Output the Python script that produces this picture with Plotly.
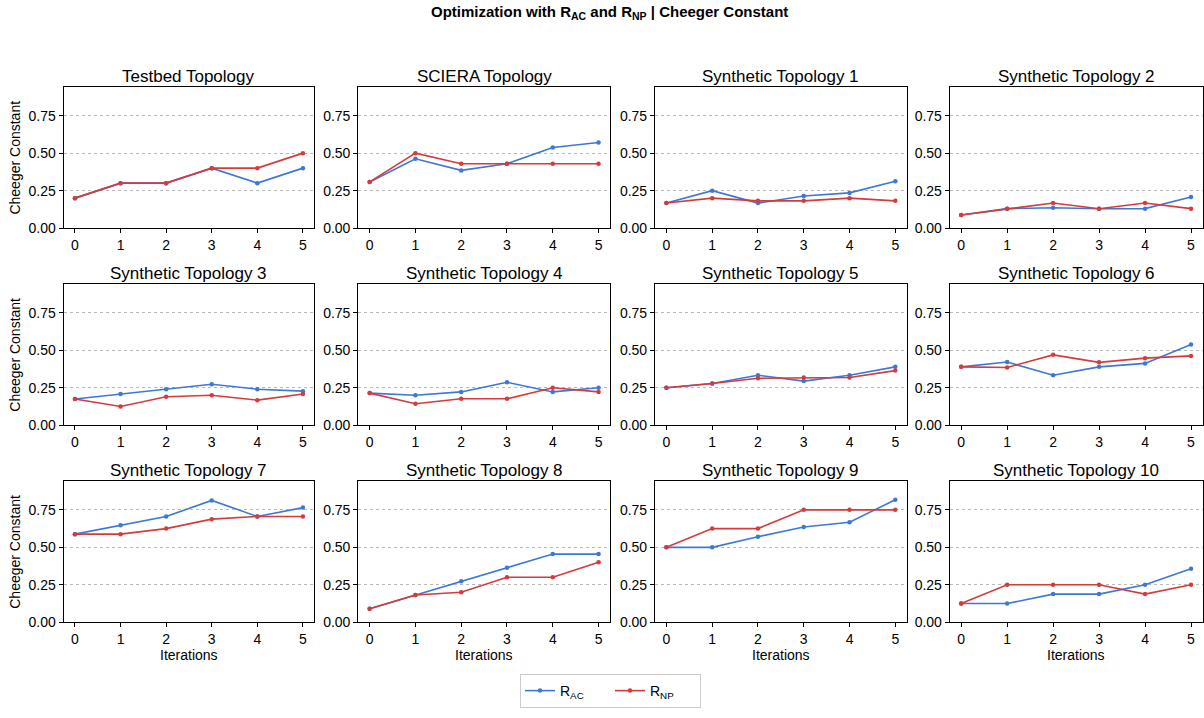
import plotly.graph_objects as go

# ---- data -------------------------------------------------------------
iterations = [0, 1, 2, 3, 4, 5]

topology_names = [
    "Testbed Topology", "SCIERA Topology",
    "Synthetic Topology 1", "Synthetic Topology 2",
    "Synthetic Topology 3", "Synthetic Topology 4",
    "Synthetic Topology 5", "Synthetic Topology 6",
    "Synthetic Topology 7", "Synthetic Topology 8",
    "Synthetic Topology 9", "Synthetic Topology 10",
]

r_ac_values = [
    [0.200, 0.300, 0.300, 0.400, 0.300, 0.400],
    [0.308, 0.462, 0.385, 0.429, 0.538, 0.571],
    [0.167, 0.250, 0.167, 0.214, 0.235, 0.313],
    [0.088, 0.130, 0.136, 0.129, 0.130, 0.208],
    [0.175, 0.208, 0.239, 0.273, 0.240, 0.227],
    [0.214, 0.200, 0.222, 0.286, 0.222, 0.250],
    [0.250, 0.278, 0.333, 0.294, 0.333, 0.389],
    [0.389, 0.421, 0.333, 0.389, 0.412, 0.538],
    [0.588, 0.647, 0.706, 0.813, 0.706, 0.765],
    [0.091, 0.182, 0.273, 0.364, 0.455, 0.455],
    [0.500, 0.500, 0.571, 0.636, 0.667, 0.818],
    [0.125, 0.125, 0.188, 0.188, 0.250, 0.357],
]

r_np_values = [
    [0.200, 0.300, 0.300, 0.400, 0.400, 0.500],
    [0.308, 0.500, 0.429, 0.429, 0.429, 0.429],
    [0.167, 0.200, 0.182, 0.182, 0.200, 0.182],
    [0.088, 0.130, 0.167, 0.129, 0.167, 0.130],
    [0.175, 0.125, 0.190, 0.200, 0.167, 0.208],
    [0.214, 0.143, 0.176, 0.176, 0.250, 0.222],
    [0.250, 0.278, 0.313, 0.318, 0.318, 0.364],
    [0.389, 0.385, 0.469, 0.419, 0.447, 0.462],
    [0.588, 0.588, 0.625, 0.688, 0.706, 0.706],
    [0.091, 0.182, 0.200, 0.300, 0.300, 0.400],
    [0.500, 0.625, 0.625, 0.750, 0.750, 0.750],
    [0.125, 0.250, 0.250, 0.250, 0.188, 0.250],
]

y_ticks = [0.0, 0.25, 0.5, 0.75]
y_tick_labels = ["0.00", "0.25", "0.50", "0.75"]

# ---- styling ----------------------------------------------------------
W, H = 1204, 718
FONT = "Liberation Sans, Arial, sans-serif"
BLUE = "#3b78d8"
RED = "#d63a3a"

# panel edges in pixels (left, right) and (top, bottom)
col_px = [(63.6, 314.6), (358.5, 610.5), (655.5, 907.5), (950.5, 1203.5)]
row_px = [(88.0, 230.7), (287.3, 430.0), (486.7, 629.3)]

y_max = max(max(v) for v in r_ac_values + r_np_values) * 1.15

fig = go.Figure()
layout = dict(
    width=W, height=H,
    margin=dict(l=0, r=0, t=0, b=0),
    paper_bgcolor="white", plot_bgcolor="white",
    font=dict(family=FONT, size=14, color="black"),
    showlegend=True,
)
annotations = []

for i, name in enumerate(topology_names):
    r, c = divmod(i, 4)
    sfx = "" if i == 0 else str(i + 1)
    xa, ya = "x" + sfx, "y" + sfx
    x0, x1 = col_px[c]
    t0, b0 = row_px[r]
    xdom = [x0 / W, min(x1 / W, 1.0)]
    ydom = [1 - b0 / H, 1 - t0 / H]

    fig.add_trace(go.Scatter(
        x=iterations, y=r_ac_values[i], xaxis=xa, yaxis=ya,
        mode="lines+markers", name="R<sub>AC</sub>",
        line=dict(color=BLUE, width=1.6),
        marker=dict(color=BLUE, size=4.5),
        legendgroup="ac", showlegend=(i == 0),
    ))
    fig.add_trace(go.Scatter(
        x=iterations, y=r_np_values[i], xaxis=xa, yaxis=ya,
        mode="lines+markers", name="R<sub>NP</sub>",
        line=dict(color=RED, width=1.6),
        marker=dict(color=RED, size=4.5),
        legendgroup="np", showlegend=(i == 0),
    ))

    layout["xaxis" + sfx] = dict(
        domain=xdom, anchor=ya, range=[-0.25, 5.25],
        tickvals=iterations, ticktext=[str(v) for v in iterations],
        ticks="outside", ticklen=4, tickcolor="black", tickwidth=1,
        showline=True, linecolor="black", linewidth=1, mirror=True,
        showgrid=False, zeroline=False,
        tickfont=dict(size=14, family=FONT, color="black"),
    )
    layout["yaxis" + sfx] = dict(
        domain=ydom, anchor=xa, range=[0, y_max],
        tickvals=y_ticks, ticktext=y_tick_labels,
        ticks="outside", ticklen=4, tickcolor="black", tickwidth=1,
        showline=True, linecolor="black", linewidth=1, mirror=True,
        showgrid=True, gridcolor="#b8b8b8", gridwidth=0.7, griddash="dot",
        zeroline=False,
        tickfont=dict(size=14, family=FONT, color="black"),
    )

    # panel title
    annotations.append(dict(
        text=name, xref="paper", yref="paper",
        x=(x0 + x1) / 2 / W, y=1 - (t0 - 11) / H,
        xanchor="center", yanchor="middle", showarrow=False,
        font=dict(size=17, family=FONT, color="black"),
    ))
    # y-axis label on first column
    if c == 0:
        annotations.append(dict(
            text="Cheeger Constant", xref="paper", yref="paper",
            x=15 / W, y=1 - (t0 + b0) / 2 / H, textangle=-90,
            xanchor="center", yanchor="middle", showarrow=False,
            font=dict(size=14, family=FONT, color="black"),
        ))
    # x-axis label on bottom row
    if r == 2:
        annotations.append(dict(
            text="Iterations", xref="paper", yref="paper",
            x=(x0 + x1) / 2 / W, y=1 - 662 / H,
            xanchor="center", yanchor="middle", showarrow=False,
            font=dict(size=14, family=FONT, color="black"),
        ))

annotations.append(dict(
    text="<b>Optimization with R<sub>AC</sub> and R<sub>NP</sub> | Cheeger Constant</b>",
    xref="paper", yref="paper", x=610 / W, y=1 - 13 / H,
    xanchor="center", yanchor="middle", showarrow=False,
    font=dict(size=15, family=FONT, color="black"),
))

layout["annotations"] = annotations
layout["legend"] = dict(
    orientation="h", x=611 / W, xanchor="center", y=1 - 716 / H, yanchor="bottom",
    bordercolor="#cccccc", borderwidth=1, bgcolor="white",
    font=dict(size=14, family=FONT, color="black"),
    itemwidth=30, entrywidth=45, entrywidthmode="pixels",
)

fig.update_layout(**layout)
fig.write_html("out.html")
